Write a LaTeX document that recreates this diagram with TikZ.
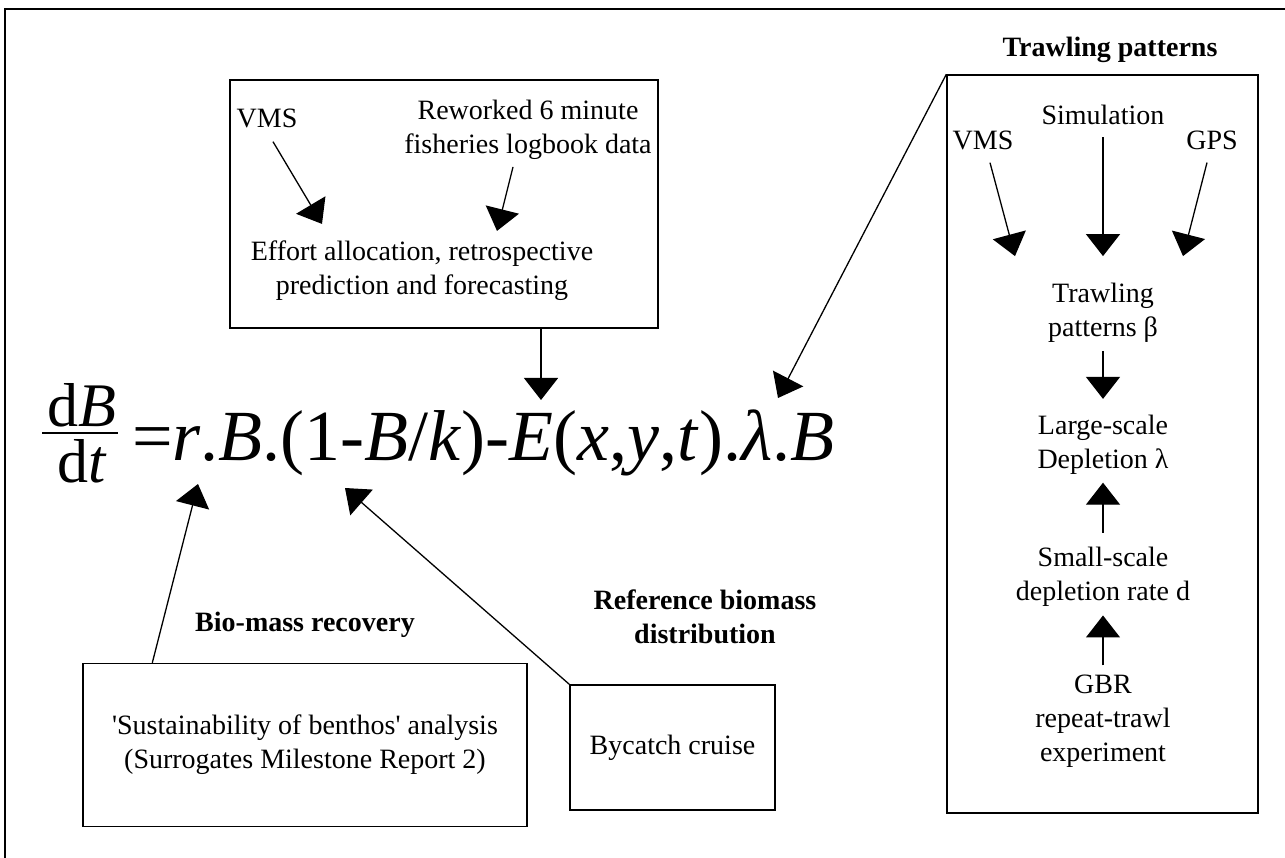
\documentclass[tikz,border=0pt]{standalone}
\usepackage{fontspec}
\setmainfont{Liberation Serif}
\usetikzlibrary{arrows.meta,positioning}

\begin{document}
\begin{tikzpicture}[x=1pt,y=-1pt,txt/.style={font=\fontsize{28}{34}\selectfont,align=center,inner sep=0pt},ttl/.style={txt,font=\fontsize{28}{34}\selectfont\bfseries},box/.style={txt,draw,line width=1.4pt},eqn/.style={font=\fontsize{72}{80}\selectfont,inner sep=0pt},frac/.style={eqn,font=\fontsize{62}{70}\selectfont,anchor=base},arr/.style={line width=1.3pt,-{Triangle[width=34pt,length=22pt]}}]
\useasboundingbox (0,0) rectangle (1285,858);
\draw[line width=1.8pt] (5,858) -- (5,9) -- (1285,9);
\node[box,minimum width=428pt,minimum height=248pt] (effbox) at (444,204) {};
\node[txt] (vms1) at (267,118) {VMS};
\node[txt] (logbook) at (528,130) {Reworked 6 minute\\fisheries logbook data};
\node[txt] (effort) at (422,271) {Effort allocation, retrospective\\prediction and forecasting};
\draw[arr] ([shift={(6pt,-14pt)}]vms1.south) -- ([shift={(-100pt,17pt)}]effort.north);
\draw[arr] ([shift={(-15pt,-7pt)}]logbook.south) -- ([shift={(75pt,10pt)}]effort.north);
\node[box,minimum width=311pt,minimum height=738pt] (trawl) at (1102.5,444) {};
\node[ttl] (trtitle) at (1110,50) {Trawling patterns};
\node[txt] (sim) at (1103,115) {Simulation};
\node[txt] (vms2) at (983,140) {VMS};
\node[txt] (gps) at (1212,140) {GPS};
\node[txt] (beta) at (1103,313) {Trawling\\patterns β};
\node[txt,below=72pt of beta] (large) {Large-scale\\Depletion λ};
\node[txt,below=72pt of large] (small) {Small-scale\\depletion rate d};
\node[txt,below=68pt of small] (gbr) {GBR\\repeat-trawl\\experiment};
\draw[arr] ([shift={(7pt,-13pt)}]vms2.south) -- ([shift={(-88pt,27pt)}]beta.north);
\draw[arr] ([yshift=-12pt]sim.south) -- ([yshift=27pt]beta.north);
\draw[arr] ([shift={(-5pt,-13pt)}]gps.south) -- ([shift={(80pt,27pt)}]beta.north);
\draw[arr,shorten <=8pt,shorten >=16pt] (beta) -- (large);
\draw[arr,shorten <=14pt,shorten >=8pt] (small) -- (large);
\draw[arr,shorten <=9pt,shorten >=9pt] (gbr) -- (small);
\node[frac] (dB) at (82,426) {d\textit{B}};
\node[frac] (dt) at (82,482) {d\textit{t}};
\draw[line width=1.6pt] ([shift={(-5pt,-7pt)}]dB.base west) -- ([shift={(1pt,-7pt)}]dB.base east);
\node[eqn,anchor=base west] (eq) at (132,460) {=\textit{r}.\textit{B}.(1-\textit{B}/\textit{k})-\textit{E}(\textit{x},\textit{y},\textit{t}).\textit{λ}.\textit{B}};
\coordinate (rterm) at (198,484);
\coordinate (kterm) at (345,488);
\coordinate (eterm) at (541,400);
\coordinate (lterm) at (778,398);
\node[box,minimum width=444pt,minimum height=163pt] (bio) at (305,745) {\textquotesingle Sustainability of benthos\textquotesingle{} analysis\\(Surrogates Milestone Report 2)};
\node[ttl] (biottl) at (305,625) {Bio-mass recovery};
\node[box,minimum width=205pt,minimum height=125pt] (ref) at (672.5,747.5) {Bycatch cruise};
\node[ttl] (refttl) at (705,617) {Reference biomass\\distribution};
\draw[arr] ([xshift=70pt]bio.north west) -- (rterm);
\draw[arr] (ref.north west) -- (kterm);
\draw[arr] (effbox.south -| eterm) -- (eterm);
\draw[arr] (trawl.north west) -- (lterm);
\end{tikzpicture}
\end{document}
